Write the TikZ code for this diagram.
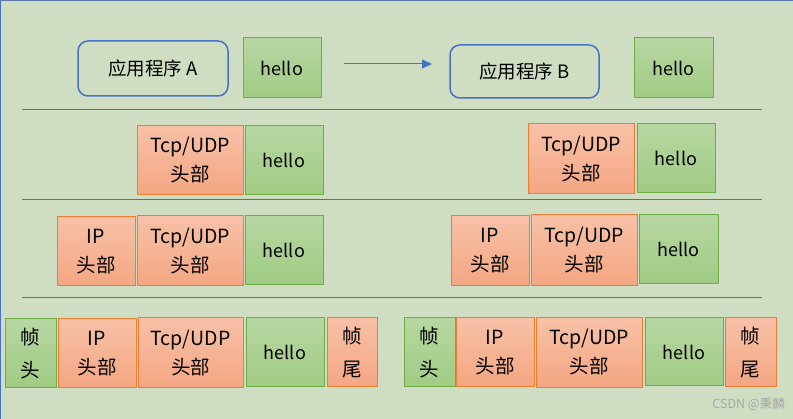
\documentclass[tikz,border=0pt]{standalone}
\usepackage{fontspec}
\setmainfont{Noto Sans CJK SC}
\usetikzlibrary{arrows.meta,shapes}

\definecolor{bgc}{RGB}{207,222,195}
\definecolor{bluel}{RGB}{68,114,196}
\definecolor{orgline}{RGB}{237,125,49}
\definecolor{orgtop}{RGB}{248,193,167}
\definecolor{orgbot}{RGB}{244,166,130}
\definecolor{grnline}{RGB}{112,173,71}
\definecolor{grntop}{RGB}{183,215,162}
\definecolor{grnbot}{RGB}{160,203,131}

\begin{document}
\begin{tikzpicture}[x=1pt,y=-1pt]
	\tikzstyle{app}=[draw=bluel,line width=1.5pt,rounded corners=10pt,inner sep=0pt,font=\fontsize{18.5}{22}\selectfont]
	\tikzstyle{data}=[draw=grnline,line width=1pt,top color=grntop,bottom color=grnbot,inner sep=0pt,minimum width=78pt,minimum height=69pt,font=\fontsize{18}{22}\selectfont]
	\tikzstyle{hdr}=[draw=orgline,line width=1pt,top color=orgtop,bottom color=orgbot,inner sep=0pt,minimum height=69pt,align=center,font=\fontsize{19.5}{29}\selectfont]
	\tikzstyle{frame}=[hdr,minimum width=51pt,font=\fontsize{19.5}{33}\selectfont]
	\tikzstyle{sep}=[bluel,line width=1.2pt]

	% background
	\fill[bgc] (0,0) rectangle (793,419);
	\useasboundingbox (0,0) rectangle (793,419);
	\draw[bluel,line width=1.5pt] (0.7,0) -- (0.7,419);
	\draw[bluel!60!gray,line width=1.2pt] (0,0.6) -- (793,0.6);

	% application layer
	\node[app,minimum width=150pt,minimum height=55pt] (appA) at (153,68.5) {应用程序 A};
	\node[data,minimum height=60pt] (helloA) at (282,68) {hello};
	\node[app,minimum width=149pt,minimum height=53pt] (appB) at (524.5,71.5) {应用程序 B};
	\node[data,minimum width=79pt,minimum height=60pt] (helloB) at (673.5,68) {hello};
	\coordinate (arrS) at (344,64);
	\coordinate (arrE) at (432,64);
	\draw[bluel,line width=1pt,-{Triangle[length=10pt,width=9pt]}] (arrS) -- (arrE);

	\coordinate (s1l) at (22,109.5); \coordinate (s1r) at (762,109.5);
	\coordinate (s2l) at (22,199.5); \coordinate (s2r) at (762,199.5);
	\coordinate (s3l) at (22,297.5); \coordinate (s3r) at (762,297.5);
	\draw[sep] (s1l) -- (s1r);
	\draw[sep] (s2l) -- (s2r);
	\draw[sep] (s3l) -- (s3r);

	% transport layer
	\node[hdr,minimum width=106pt] (tcpA) at (190,160.5) {Tcp/UDP\\头部};
	\node[data] (helloA2) at (284,160.5) {hello};
	\node[hdr,minimum width=106pt,minimum height=70pt] (tcpB) at (581,159) {Tcp/UDP\\头部};
	\node[data] (helloB2) at (676,158.5) {hello};

	% network layer
	\node[hdr,minimum width=78pt] (ipA) at (96,251.5) {IP\\头部};
	\node[hdr,minimum width=106pt,minimum height=70pt] (tcpA3) at (190,251) {Tcp/UDP\\头部};
	\node[data] (helloA3) at (284,250.5) {hello};
	\node[hdr,minimum width=78pt,minimum height=70pt] (ipB) at (490,251) {IP\\头部};
	\node[hdr,minimum width=106pt,minimum height=71pt] (tcpB3) at (584,250.5) {Tcp/UDP\\头部};
	\node[data,minimum width=79pt] (helloB3) at (678.5,249.5) {hello};

	% link layer
	\node[frame,draw=grnline,top color=grntop,bottom color=grnbot] (fhA) at (30.5,353.5) {帧\\头};
	\node[hdr,minimum width=78pt] (ipA4) at (97,353.5) {IP\\头部};
	\node[hdr,minimum width=105pt,minimum height=70pt] (tcpA4) at (190.5,353) {Tcp/UDP\\头部};
	\node[data] (helloA4) at (285,352.5) {hello};
	\node[frame,minimum width=50pt] (ftA) at (352,352.5) {帧\\尾};
	\node[frame,draw=grnline,top color=grntop,bottom color=grnbot] (fhB) at (429.5,352.5) {帧\\头};
	\node[hdr,minimum width=78pt] (ipB4) at (495,352.5) {IP\\头部};
	\node[hdr,minimum width=106pt,minimum height=70pt] (tcpB4) at (589,352.5) {Tcp/UDP\\头部};
	\node[data,minimum height=68pt] (helloB4) at (684,352) {hello};
	\node[frame] (ftB) at (750.5,352.5) {帧\\尾};

	\node[text=gray!70,font=\fontsize{12.5}{14}\selectfont,anchor=east,inner sep=0pt] (mark) at (785,404) {CSDN @秉麟};
\end{tikzpicture}
\end{document}
